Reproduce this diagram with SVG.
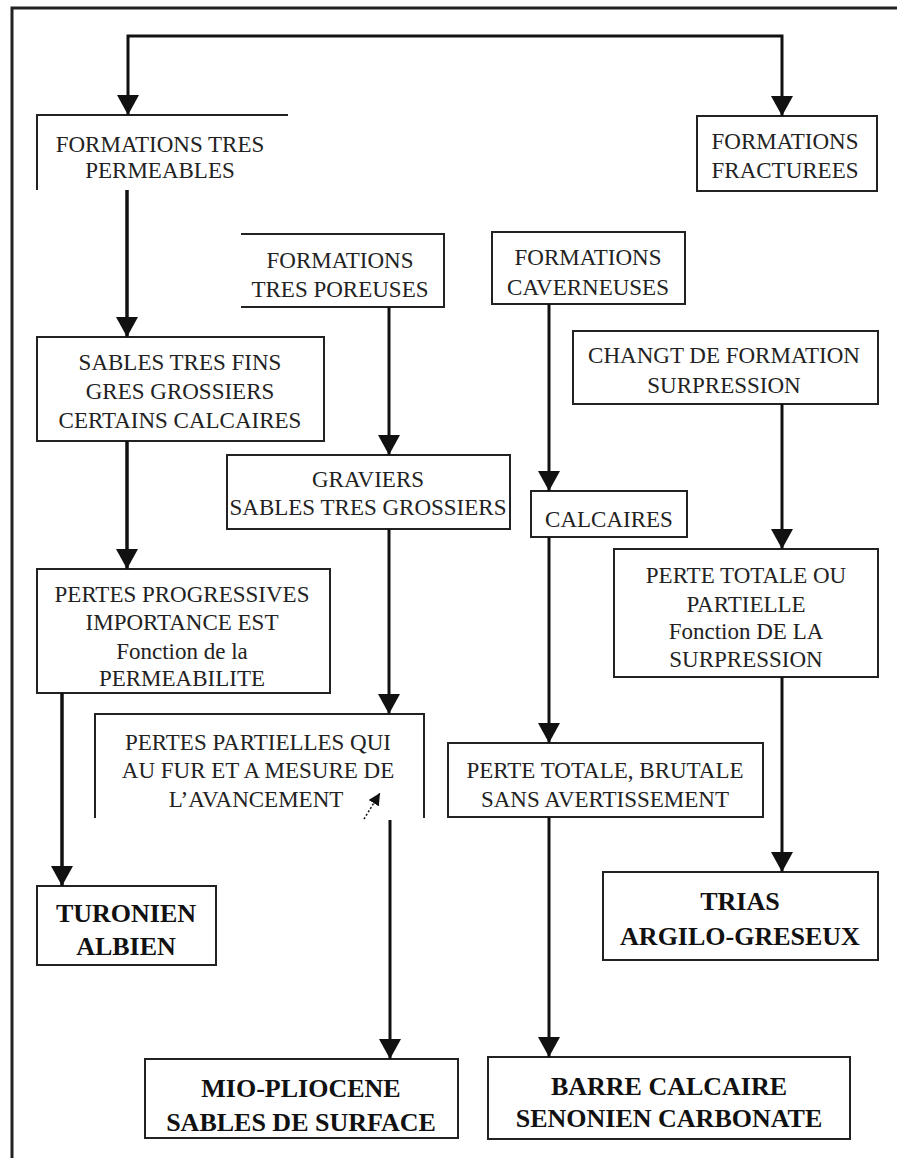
<svg xmlns="http://www.w3.org/2000/svg" width="897" height="1158" viewBox="0 0 897 1158">
<style>
.box{fill:#fff;stroke:#222;stroke-width:2}
.open{fill:none;stroke:#222;stroke-width:2}
.t{font-family:"Liberation Serif","Times New Roman",serif;font-size:23px;fill:#222;text-anchor:middle}
.b{font-family:"Liberation Serif","Times New Roman",serif;font-size:26px;font-weight:bold;fill:#111;text-anchor:middle}
.c{fill:none;stroke:#111;stroke-width:3}
.c2{fill:none;stroke:#111;stroke-width:3.5}
</style>
<defs>
<marker id="arr" viewBox="0 0 20 22" refX="20" refY="11" markerWidth="20" markerHeight="22" markerUnits="userSpaceOnUse" orient="auto">
<path d="M0,0 L20,11 L0,22 z" fill="#111"/>
</marker>
<marker id="sm" viewBox="0 0 10 10" refX="10" refY="5" markerWidth="12" markerHeight="12" markerUnits="userSpaceOnUse" orient="auto">
<path d="M0,0 L10,5 L0,10 z" fill="#111"/>
</marker>
</defs>
<rect width="897" height="1158" fill="#fff"/>
<g id="frame">
<path d="M12,1158 L12,8 L897,8" fill="none" stroke="#222" stroke-width="3"/>
</g>

<g id="n1">
<path class="open" d="M37,190 L37,115 L288,115"/>
<text class="t" x="160" y="152">FORMATIONS TRES</text>
<text class="t" x="160" y="178">PERMEABLES</text>
</g>
<g id="n2">
<rect class="box" x="697" y="116" width="180" height="75"/>
<text class="t" x="785" y="149">FORMATIONS</text>
<text class="t" x="785" y="178">FRACTUREES</text>
</g>
<g id="n3">
<path class="open" d="M241,234 L444,234 L444,307 L241,307"/>
<text class="t" x="340" y="268">FORMATIONS</text>
<text class="t" x="340" y="297">TRES POREUSES</text>
</g>
<g id="n4">
<rect class="box" x="37" y="337" width="287" height="104"/>
<text class="t" x="180" y="370">SABLES TRES FINS</text>
<text class="t" x="180" y="399">GRES GROSSIERS</text>
<text class="t" x="180" y="428">CERTAINS CALCAIRES</text>
</g>
<g id="n5">
<rect class="box" x="492" y="232" width="193" height="72"/>
<text class="t" x="588" y="265">FORMATIONS</text>
<text class="t" x="588" y="295">CAVERNEUSES</text>
</g>
<g id="n6">
<rect class="box" x="573" y="331" width="305" height="73"/>
<text class="t" x="724" y="363">CHANGT DE FORMATION</text>
<text class="t" x="724" y="393">SURPRESSION</text>
</g>
<g id="n7">
<rect class="box" x="227" y="455" width="283" height="74"/>
<text class="t" x="368" y="487">GRAVIERS</text>
<text class="t" x="368" y="515">SABLES TRES GROSSIERS</text>
</g>
<g id="n8">
<rect class="box" x="531" y="491" width="156" height="46"/>
<text class="t" x="609" y="527">CALCAIRES</text>
</g>
<g id="n9">
<rect class="box" x="614" y="549" width="264" height="128"/>
<text class="t" x="746" y="583">PERTE TOTALE OU</text>
<text class="t" x="746" y="612">PARTIELLE</text>
<text class="t" x="746" y="639">Fonction DE LA</text>
<text class="t" x="746" y="667">SURPRESSION</text>
</g>
<g id="n10">
<rect class="box" x="37" y="569" width="293" height="124"/>
<text class="t" x="182" y="602">PERTES PROGRESSIVES</text>
<text class="t" x="182" y="630">IMPORTANCE EST</text>
<text class="t" x="182" y="659">Fonction de la</text>
<text class="t" x="182" y="686">PERMEABILITE</text>
</g>
<g id="n11">
<rect x="95" y="714" width="329" height="106" fill="#fff"/>
<path class="open" d="M95,818 L95,714 L424,714 L424,818"/>
<text class="t" x="258" y="750">PERTES PARTIELLES QUI</text>
<text class="t" x="258" y="778">AU FUR ET A MESURE DE</text>
<text class="t" x="256" y="807">L’AVANCEMENT</text>
</g>
<g id="n12">
<rect class="box" x="448" y="743" width="315" height="74"/>
<text class="t" x="605" y="778">PERTE TOTALE, BRUTALE</text>
<text class="t" x="605" y="807">SANS AVERTISSEMENT</text>
</g>
<g id="n13">
<rect class="box" x="37" y="886" width="179" height="79"/>
<text class="b" x="126" y="922">TURONIEN</text>
<text class="b" x="126" y="955">ALBIEN</text>
</g>
<g id="n14">
<rect class="box" x="603" y="872" width="275" height="88"/>
<text class="b" x="740" y="910">TRIAS</text>
<text class="b" x="740" y="945">ARGILO-GRESEUX</text>
</g>
<g id="n15">
<rect class="box" x="145" y="1059" width="313" height="79"/>
<text class="b" x="301" y="1097">MIO-PLIOCENE</text>
<text class="b" x="301" y="1131">SABLES DE SURFACE</text>
</g>
<g id="n16">
<rect class="box" x="488" y="1057" width="362" height="82"/>
<text class="b" x="669" y="1095">BARRE CALCAIRE</text>
<text class="b" x="669" y="1127">SENONIEN CARBONATE</text>
</g>

<g id="connectors">
<path class="c" d="M455,36 L128,36 L128,115" marker-end="url(#arr)"/>
<path class="c" d="M455,36 L782,36 L782,116" marker-end="url(#arr)"/>
<path class="c2" d="M127,190 L127,337" marker-end="url(#arr)"/>
<path class="c2" d="M127,441 L127,569" marker-end="url(#arr)"/>
<path class="c2" d="M62,693 L62,886" marker-end="url(#arr)"/>
<path class="c" d="M389,307 L389,455" marker-end="url(#arr)"/>
<path class="c" d="M389,529 L389,714" marker-end="url(#arr)"/>
<path class="c" d="M390,820 L390,1059" marker-end="url(#arr)"/>
<path class="c" d="M549,304 L549,491" marker-end="url(#arr)"/>
<path class="c" d="M549,537 L549,743" marker-end="url(#arr)"/>
<path class="c" d="M549,817 L549,1057" marker-end="url(#arr)"/>
<path class="c" d="M782,404 L782,549" marker-end="url(#arr)"/>
<path class="c" d="M782,677 L782,872" marker-end="url(#arr)"/>
<path d="M364,819 L380,793" fill="none" stroke="#111" stroke-width="1.5" stroke-dasharray="2,2" marker-end="url(#sm)"/>
</g>
</svg>
